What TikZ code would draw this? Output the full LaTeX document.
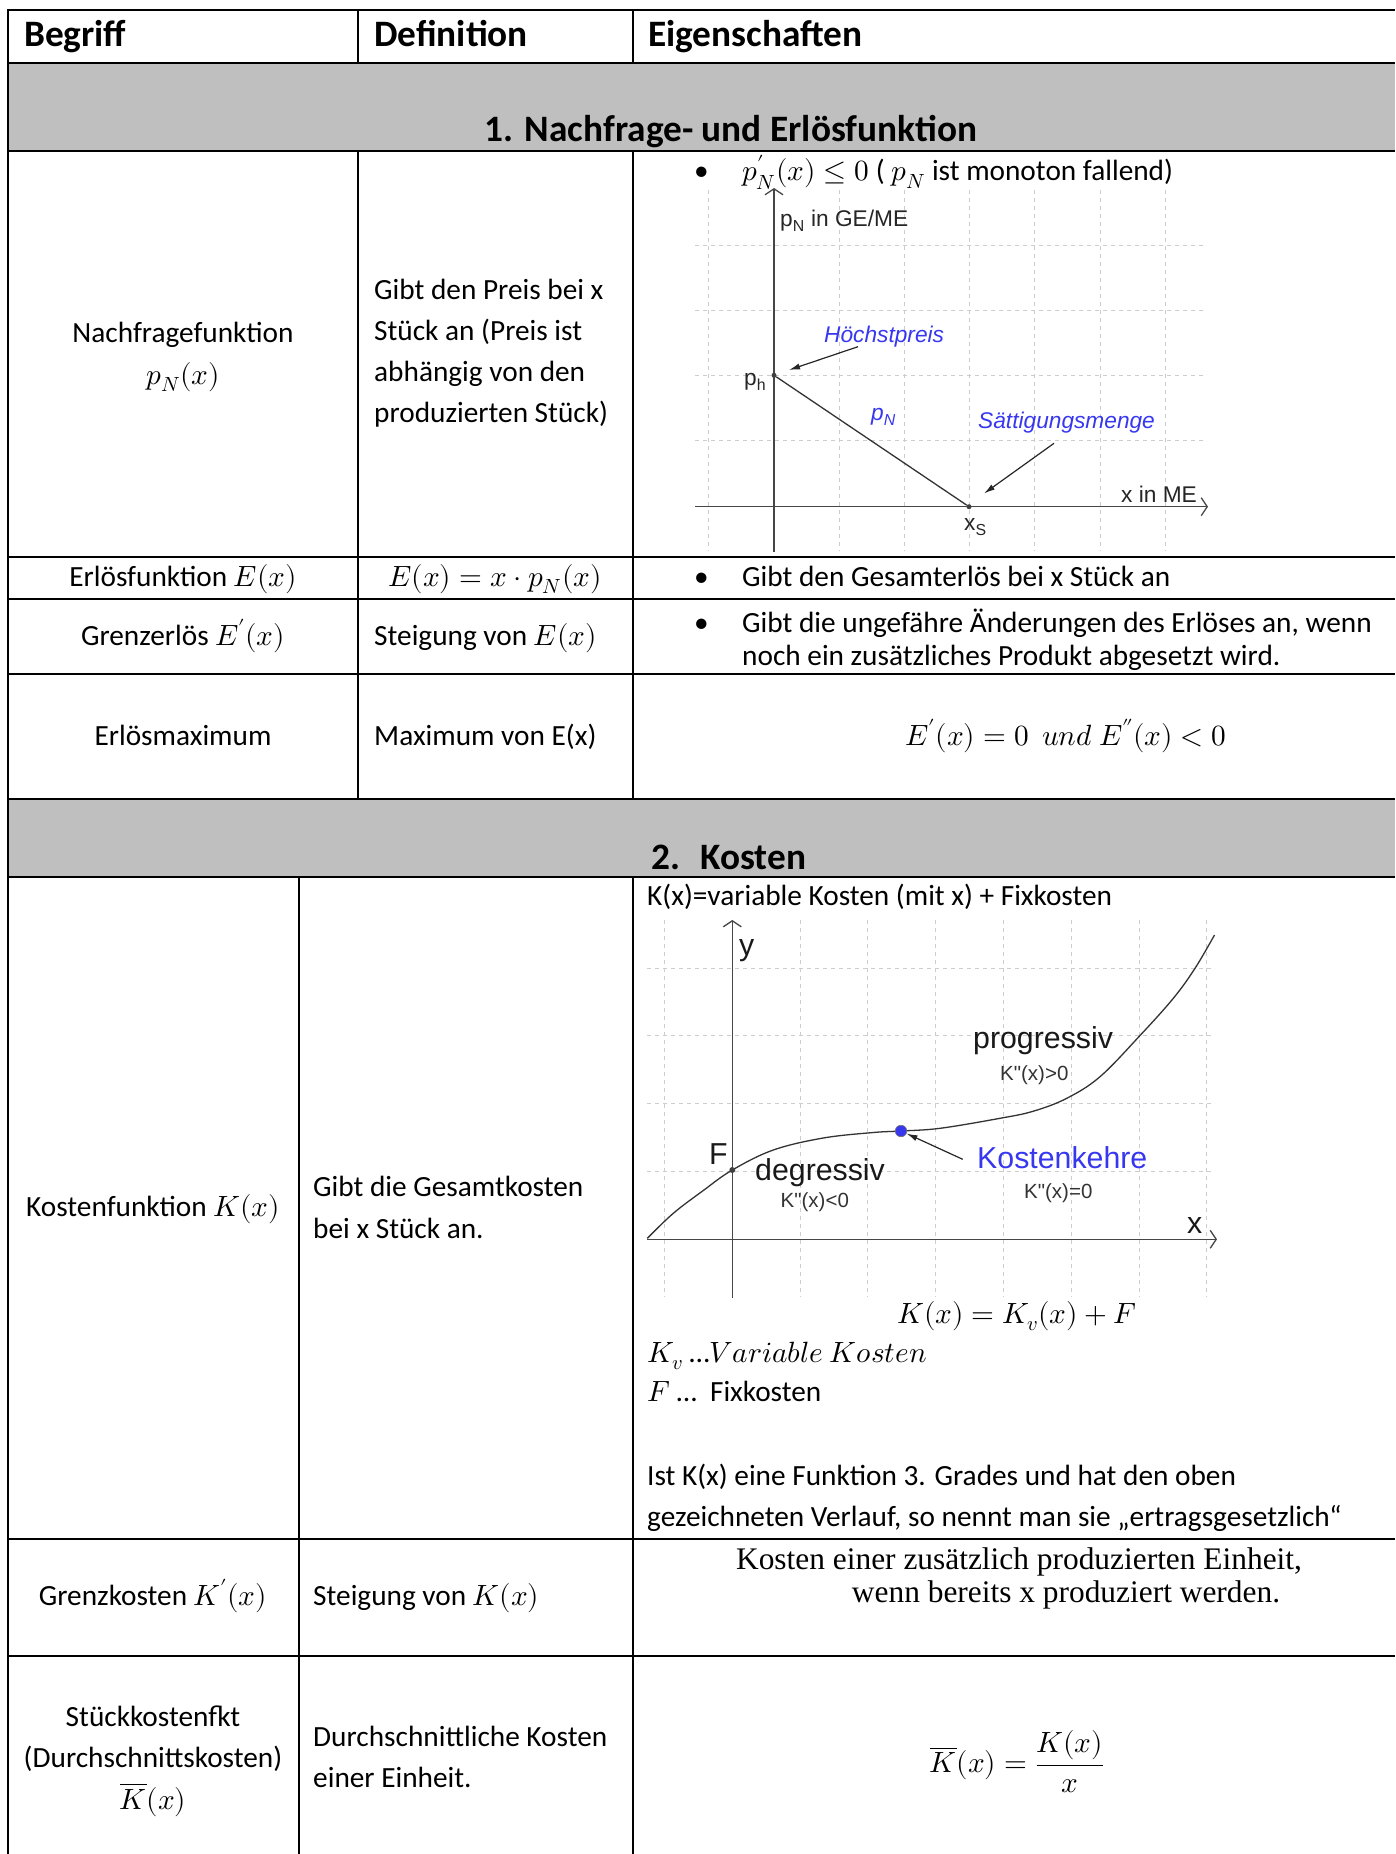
\documentclass[tikz,border=0pt]{standalone}
\usepackage{fontspec}
\usepackage{unicode-math}
\setmainfont{Carlito}
\setmathfont{Latin Modern Math}
\newfontfamily\arialf{Liberation Sans}
\newfontfamily\tnrf{Liberation Serif}
\usetikzlibrary{arrows.meta}
\definecolor{bandgray}{RGB}{191,191,191}
\definecolor{gridgray}{RGB}{205,205,205}
\definecolor{axgray}{RGB}{70,70,70}
\definecolor{gblue}{RGB}{55,55,240}
\newcommand\bodyf{\fontsize{29.3}{41}\selectfont}
\newcommand\headf{\fontsize{37.3}{45}\selectfont\bfseries}
\newcommand\gfa{\arialf\fontsize{22.7}{26}\selectfont}
\newcommand\gfb{\arialf\fontsize{30.3}{34}\selectfont}
\newcommand\gfc{\arialf\fontsize{20.5}{24}\selectfont}
\newcommand\serf{\tnrf\fontsize{31.4}{36}\selectfont}
\begin{document}
\begin{tikzpicture}[x=1pt,y=-1pt,
  tline/.style={line width=2.2pt,black},
  body/.style={font=\bodyf,inner sep=0pt,text=black},
  hd/.style={font=\headf,inner sep=0pt,text=black},
  gridl/.style={gridgray,line width=1pt,dash pattern=on 4pt off 4pt},
  axis/.style={axgray,line width=1.3pt,-{Straight Barb[length=6pt,width=18pt]}},
  ga/.style={font=\gfa,inner sep=0pt,text=black!85},
  gb/.style={font=\gfb,inner sep=0pt,text=black!90},
  gc/.style={font=\gfc,inner sep=0pt,text=black!80},
  pointer/.style={black!85,line width=1.2pt,-{Latex[length=11pt,width=6pt]}},
  dot/.style={circle,fill=black!75,inner sep=0pt,minimum size=6pt}]
\useasboundingbox (0,0) rectangle (1395,1854);
\fill[white] (0,0) rectangle (1395,1854);
% gray bands
\fill[bandgray] (8,63) rectangle (1395,151);
\fill[bandgray] (8,799) rectangle (1395,877);
% table lines
\foreach \yy in {10,63,151,557,599,674,799,877,1539,1656}
  \draw[tline] (8,\yy) -- (1395,\yy);
\draw[tline] (8,9) -- (8,1854);
\draw[tline] (358,10) -- (358,63);
\draw[tline] (633,10) -- (633,63);
\draw[tline] (358,151) -- (358,799);
\draw[tline] (633,151) -- (633,799);
\draw[tline] (299,877) -- (299,1854);
\draw[tline] (633,877) -- (633,1854);
% header
\node[hd,anchor=base west] (hbeg) at (24,47) {Begriff};
\node[hd,anchor=base west] (hdef) at (374,47) {Definition};
\node[hd,anchor=base west] (heig) at (648,47) {Eigenschaften};
\node[hd,anchor=base] (sec1) at (731,142) {1. Nachfrage- und Erlösfunktion};
\node[hd,anchor=base west] (sec2) at (651,869) {2.\hspace{0.55em}Kosten};
% row 1
\node[body,anchor=base] (nf1) at (183,342) {Nachfragefunktion};
\node[body,anchor=base] (nf2) at (183,384) {$p_N(x)$};
\node[body,anchor=base west] (nd1) at (374,299) {Gibt den Preis bei x};
\node[body,anchor=base west] (nd2) at (374,340) {Stück an (Preis ist};
\node[body,anchor=base west] (nd3) at (374,381) {abhängig von den};
\node[body,anchor=base west] (nd4) at (374,422) {produzierten Stück)};
\node[body,anchor=base west] (nb0) at (694,181) {\textbullet};
\node[body,anchor=base west] (nb1) at (742,181) {$p_N'(x)\le 0$ ( $p_N$ ist monoton fallend)};
% graph 1
\foreach \xx in {708,774,839,904,969,1034,1100,1165}
  \draw[gridl] (\xx,190) -- (\xx,551);
\foreach \yy in {245,310,375.3,440.7,506.7}
  \draw[gridl] (695,\yy) -- (1206,\yy);
\coordinate (g1yb) at (774,552);
\coordinate (g1yt) at (774,188);
\coordinate (g1xl) at (695,506.7);
\coordinate (g1xr) at (1208,506.7);
\draw[axis] (g1yb) -- (g1yt);
\draw[axis] (g1xl) -- (g1xr);
\node[dot,minimum size=5pt] (ph) at (774,375.3) {};
\node[dot,minimum size=5pt] (xs) at (969,506.7) {};
\draw[black!80,line width=1.3pt] (ph) -- (xs);
\node[ga,anchor=base west] (lpn) at (780,226) {p\textsubscript{N} in GE/ME};
\node[ga,anchor=base west] (lph) at (744,385) {p\textsubscript{h}};
\node[ga,anchor=base west,text=gblue,font=\gfa\itshape] (lhp) at (824,342) {Höchstpreis};
\node[ga,anchor=base west,text=gblue,font=\gfa\itshape] (lpnb) at (871,420) {p\textsubscript{N}};
\node[ga,anchor=base west,text=gblue,font=\gfa\itshape] (lsm) at (978,428) {Sättigungsmenge};
\node[ga,anchor=base west] (lxme) at (1121,502) {x in ME};
\node[ga,anchor=base west] (lxs) at (964,530) {x\textsubscript{S}};
\coordinate (a1s) at (858,346.7);
\coordinate (a1e) at (789,370);
\coordinate (a2s) at (1054,443.3);
\coordinate (a2e) at (984,493.5);
\draw[pointer] (a1s) -- (a1e);
\draw[pointer] (a2s) -- (a2e);
% row 2
\node[body,anchor=base] (ef1) at (183,586) {Erlösfunktion $E(x)$};
\node[body,anchor=base] (ef2) at (495,586) {$E(x)=x\cdot p_N(x)$};
\node[body,anchor=base west] (eb0) at (694,586) {\textbullet};
\node[body,anchor=base west] (eb1) at (742,586) {Gibt den Gesamterlös bei x Stück an};
% row 3
\node[body,anchor=base] (ge1) at (183,645) {Grenzerlös $E'(x)$};
\node[body,anchor=base west] (ge2) at (374,645) {Steigung von $E(x)$};
\node[body,anchor=base west] (gb0) at (694,632) {\textbullet};
\node[body,anchor=base west] (gb1) at (742,632) {Gibt die ungefähre Änderungen des Erlöses an, wenn};
\node[body,anchor=base west] (gb2) at (742,665) {noch ein zusätzliches Produkt abgesetzt wird.};
% row 4
\node[body,anchor=base] (em1) at (183,745) {Erlösmaximum};
\node[body,anchor=base west] (em2) at (374,745) {Maximum von E(x)};
\node[body,anchor=base] (em3) at (1066,745) {$E'(x)=0\ \ und\ E''(x)<0$};
% Kosten row
\node[body,anchor=base] (kf1) at (153,1216) {Kostenfunktion $K(x)$};
\node[body,anchor=base west] (kd1) at (313,1196) {Gibt die Gesamtkosten};
\node[body,anchor=base west] (kd2) at (313,1238) {bei x Stück an.};
\node[body,anchor=base west] (kt0) at (647,905) {K(x)=variable Kosten (mit x) + Fixkosten};
% graph 2
\foreach \xx in {664.5,732.3,800.1,867.9,935.7,1003.5,1071.3,1139.1,1206.9}
  \draw[gridl] (\xx,920) -- (\xx,1297);
\foreach \yy in {968.1,1035.9,1103.7,1171.5,1239.3}
  \draw[gridl] (647,\yy) -- (1215,\yy);
\coordinate (g2yb) at (732.3,1298);
\coordinate (g2yt) at (732.3,920);
\coordinate (g2xl) at (647,1239.3);
\coordinate (g2xr) at (1217,1239.3);
\draw[axis] (g2yb) -- (g2yt);
\draw[axis] (g2xl) -- (g2xr);
\draw[black!80,line width=1.3pt] plot[smooth,tension=0.6] coordinates {
  (647.3,1238.3) (673.3,1213.3) (703.3,1190.5) (732.3,1170) (773.3,1150)
  (823.3,1138) (873.3,1132.5) (901,1131) (940,1128.3) (1000,1118.3)
  (1033.3,1111.2) (1066.7,1098.3) (1100,1076.7) (1140,1035.5) (1173.3,998.3)
  (1195,968.3) (1214.5,935)};
\node[dot,minimum size=6pt] (fpt) at (732.3,1170) {};
\node[circle,fill=gblue,draw=black!55,line width=0.6pt,inner sep=0pt,minimum size=11.5pt] (kk) at (901,1131) {};
\node[gb,anchor=base west] (ly) at (739,955) {y};
\node[gb,anchor=base west] (lF) at (709,1164) {F};
\node[gb,anchor=base west] (ldeg) at (755,1180) {degressiv};
\node[gc,anchor=base west] (ldeg2) at (780.5,1207.3) {K"(x)<0};
\node[gb,anchor=base west] (lprog) at (973,1048.3) {progressiv};
\node[gc,anchor=base west] (lprog2) at (1000,1080) {K"(x)>0};
\node[gb,anchor=base west,text=gblue] (lkk) at (977,1168.3) {Kostenkehre};
\node[gc,anchor=base west] (lkk2) at (1024,1198.3) {K"(x)=0};
\node[gb,anchor=base west] (lx) at (1187,1233.3) {x};
\coordinate (a3s) at (962.7,1159.3);
\draw[pointer] (a3s) -- (kk);
% formulas below graph 2
\node[body,anchor=base] (kform) at (1017,1323) {$K(x)=K_v(x)+F$};
\node[body,anchor=base west] (kv) at (647,1362) {$K_v$ …$\symit{Variable\ Kosten}$};
\node[body,anchor=base west] (kfx) at (647,1401) {$F$ …\ \ Fixkosten};
\node[body,anchor=base west] (ist1) at (647,1485) {Ist K(x) eine Funktion 3. Grades und hat den oben};
\node[body,anchor=base west] (ist2) at (647,1526) {gezeichneten Verlauf, so nennt man sie „ertragsgesetzlich“};
% Grenzkosten row
\node[body,anchor=base] (gk1) at (153,1605) {Grenzkosten $K'(x)$};
\node[body,anchor=base west] (gk2) at (313,1605) {Steigung von $K(x)$};
\node[body,anchor=base,font=\serf] (gk3) at (1019,1569) {Kosten einer zusätzlich produzierten Einheit,};
\node[body,anchor=base,font=\serf] (gk4) at (1066,1602) {wenn bereits x produziert werden.};
% Stueckkosten row
\node[body,anchor=base] (sk1) at (153,1726) {Stückkostenfkt};
\node[body,anchor=base] (sk2) at (153,1767) {(Durchschnittskosten)};
\node[body,anchor=base] (sk3) at (153,1809) {$\overline{K}(x)$};
\node[body,anchor=base west] (sd1) at (313,1746) {Durchschnittliche Kosten};
\node[body,anchor=base west] (sd2) at (313,1787) {einer Einheit.};
\node[body,anchor=center] (skf) at (1017,1762) {$\overline{K}(x)=\dfrac{K(x)}{x}$};
\end{tikzpicture}
\end{document}
